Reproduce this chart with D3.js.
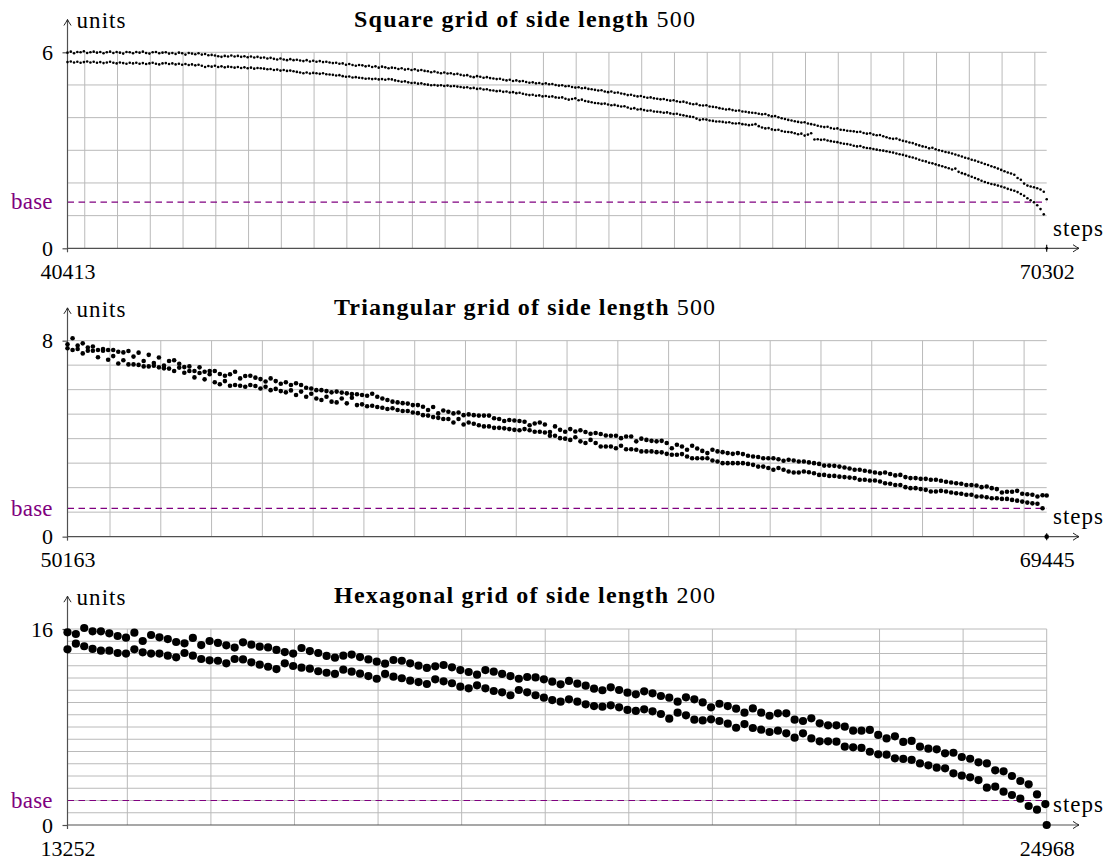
<!DOCTYPE html>
<html>
<head>
<meta charset="utf-8">
<script src="https://cdn.jsdelivr.net/npm/d3@7"></script>
<style>
  body { margin: 0; background: #fff; }
  svg { display: block; }
  svg text { font-family: "Liberation Serif", "Times New Roman", "DejaVu Serif", serif; }
</style>
</head>
<body>
<svg id="chart" width="1113" height="865"></svg>
<script>
// one panel per grid type
const titles = ['Square grid of side length', 'Triangular grid of side length', 'Hexagonal grid of side length']
const sideLengths = [500, 500, 200]
const stepStarts = [40413, 50163, 13252]
const stepEnds = [70302, 69445, 24968]
const unitMax = [6, 8, 16]
const baseValues = [1.414, 1.155, 2]
const sampleEvery = 100
const gridStarts = [40940, 51000, 13968]
const gridEvery = 1000

// values, one point every 100 steps
const squareUpper = [
  5.99, 6.02, 5.97, 6.01, 6.00, 6.03, 5.98, 6.00, 6.02, 5.99,
  6.01, 5.97, 6.00, 6.02, 5.98, 6.01, 5.99, 5.96, 6.01, 6.00,
  5.97, 6.01, 5.99, 6.02, 5.98, 5.96, 6.00, 6.01, 5.97, 5.99,
  6.00, 5.96, 5.98, 5.95, 5.99, 5.97, 5.93, 5.98, 5.96, 5.94,
  5.97, 5.93, 5.95, 5.91, 5.92, 5.90, 5.88, 5.86, 5.89, 5.87,
  5.90, 5.87, 5.89, 5.86, 5.88, 5.85, 5.87, 5.84, 5.86, 5.83,
  5.84, 5.81, 5.83, 5.80, 5.78, 5.81, 5.78, 5.76, 5.79, 5.76,
  5.77, 5.75, 5.73, 5.76, 5.72, 5.74, 5.71, 5.73, 5.70, 5.71,
  5.69, 5.67, 5.68, 5.65, 5.66, 5.62, 5.64, 5.61, 5.59, 5.61,
  5.60, 5.57, 5.59, 5.55, 5.57, 5.53, 5.56, 5.54, 5.51, 5.53,
  5.52, 5.49, 5.51, 5.47, 5.49, 5.46, 5.48, 5.44, 5.46, 5.43,
  5.42, 5.39, 5.41, 5.38, 5.36, 5.38, 5.35, 5.36, 5.33, 5.34,
  5.31, 5.29, 5.30, 5.26, 5.24, 5.27, 5.25, 5.22, 5.24, 5.21,
  5.20, 5.18, 5.19, 5.16, 5.14, 5.16, 5.12, 5.14, 5.11, 5.12,
  5.09, 5.07, 5.08, 5.05, 5.06, 5.03, 5.05, 5.02, 5.03, 5.00,
  4.98, 4.99, 4.96, 4.97, 4.94, 4.92, 4.93, 4.90, 4.91, 4.88,
  4.87, 4.85, 4.83, 4.84, 4.80, 4.78, 4.80, 4.76, 4.77, 4.74,
  4.72, 4.69, 4.70, 4.67, 4.65, 4.66, 4.63, 4.61, 4.62, 4.59,
  4.58, 4.56, 4.57, 4.54, 4.52, 4.53, 4.50, 4.48, 4.49, 4.46,
  4.43, 4.41, 4.42, 4.38, 4.37, 4.38, 4.34, 4.33, 4.32, 4.29,
  4.27, 4.25, 4.26, 4.23, 4.21, 4.22, 4.19, 4.18, 4.16, 4.15,
  4.14, 4.12, 4.10, 4.11, 4.07, 4.04, 4.05, 4.01, 3.98, 3.96,
  3.93, 3.91, 3.89, 3.87, 3.85, 3.86, 3.82, 3.80, 3.78, 3.75,
  3.73, 3.71, 3.72, 3.68, 3.66, 3.67, 3.63, 3.62, 3.60, 3.59,
  3.58, 3.56, 3.57, 3.53, 3.51, 3.52, 3.48, 3.46, 3.47, 3.43,
  3.40, 3.37, 3.35, 3.36, 3.32, 3.29, 3.27, 3.24, 3.22, 3.18,
  3.15, 3.12, 3.10, 3.06, 3.08, 3.03, 3.00, 2.98, 2.95, 2.93,
  2.90, 2.87, 2.84, 2.81, 2.77, 2.75, 2.71, 2.69, 2.65, 2.62,
  2.58, 2.55, 2.51, 2.48, 2.44, 2.40, 2.36, 2.32, 2.29, 2.25,
  2.15, 2.10, 1.98, 1.92, 1.89, 1.87, 1.84, 1.80, 1.73, 1.50
]
const squareLower = [
  5.70, 5.72, 5.69, 5.71, 5.68, 5.70, 5.72, 5.69, 5.71, 5.68,
  5.70, 5.67, 5.69, 5.71, 5.68, 5.66, 5.69, 5.67, 5.65, 5.68,
  5.66, 5.68, 5.65, 5.67, 5.64, 5.66, 5.68, 5.65, 5.63, 5.66,
  5.67, 5.64, 5.66, 5.63, 5.65, 5.62, 5.64, 5.61, 5.63, 5.60,
  5.62, 5.59, 5.55, 5.58, 5.56, 5.59, 5.55, 5.57, 5.54, 5.56,
  5.55, 5.53, 5.55, 5.52, 5.54, 5.51, 5.53, 5.50, 5.52, 5.51,
  5.50, 5.48, 5.49, 5.46, 5.47, 5.44, 5.46, 5.43, 5.44, 5.42,
  5.40, 5.38, 5.36, 5.38, 5.35, 5.37, 5.36, 5.34, 5.36, 5.33,
  5.32, 5.31, 5.29, 5.30, 5.27, 5.25, 5.26, 5.23, 5.24, 5.22,
  5.21, 5.19, 5.20, 5.18, 5.19, 5.17, 5.18, 5.16, 5.18, 5.17,
  5.14, 5.12, 5.10, 5.11, 5.08, 5.06, 5.07, 5.04, 5.05, 5.02,
  5.01, 4.99, 5.00, 4.98, 4.99, 4.97, 4.98, 4.96, 4.97, 4.95,
  4.94, 4.92, 4.93, 4.90, 4.91, 4.88, 4.89, 4.86, 4.87, 4.84,
  4.83, 4.81, 4.82, 4.79, 4.80, 4.77, 4.78, 4.75, 4.76, 4.73,
  4.71, 4.69, 4.70, 4.67, 4.68, 4.65, 4.66, 4.64, 4.65, 4.62,
  4.61, 4.62, 4.58, 4.55, 4.57, 4.59, 4.53, 4.55, 4.51, 4.49,
  4.47, 4.45, 4.44, 4.42, 4.43, 4.40, 4.38, 4.39, 4.36, 4.34,
  4.35, 4.31, 4.27, 4.29, 4.25, 4.26, 4.23, 4.21, 4.22, 4.19,
  4.18, 4.17, 4.15, 4.16, 4.13, 4.11, 4.12, 4.09, 4.07, 4.05,
  4.03, 4.02, 3.97, 3.93, 3.95, 3.94, 3.91, 3.90, 3.88, 3.88,
  3.87, 3.85, 3.86, 3.83, 3.82, 3.83, 3.80, 3.79, 3.77, 3.78,
  3.80, 3.74, 3.70, 3.67, 3.68, 3.64, 3.62, 3.63, 3.59, 3.57,
  3.56, 3.55, 3.52, 3.49, 3.51, 3.45, 3.48, 3.52, 3.33, 3.34,
  3.32, 3.33, 3.30, 3.28, 3.26, 3.25, 3.22, 3.20, 3.19, 3.17,
  3.14, 3.12, 3.13, 3.09, 3.07, 3.06, 3.04, 3.02, 3.00, 2.99,
  2.97, 2.95, 2.93, 2.90, 2.88, 2.86, 2.83, 2.80, 2.78, 2.75,
  2.71, 2.68, 2.66, 2.62, 2.60, 2.57, 2.54, 2.51, 2.48, 2.45,
  2.41, 2.44, 2.34, 2.30, 2.27, 2.23, 2.19, 2.15, 2.11, 2.07,
  2.03, 2.00, 1.97, 1.95, 1.92, 1.89, 1.86, 1.82, 1.79, 1.76,
  1.72, 1.66, 1.61, 1.53, 1.47, 1.41, 1.32, 1.20, 1.04
]
const triangleUpper = [
  7.85, 8.10, 7.80, 7.89, 7.72, 7.76, 7.62, 7.66, 7.62, 7.62,
  7.55, 7.52, 7.58, 7.35, 7.51, 7.17, 7.42, 7.09, 7.31, 6.98,
  7.17, 7.20, 7.06, 6.92, 6.95, 6.76, 6.91, 6.73, 6.76, 6.76,
  6.64, 6.57, 6.63, 6.73, 6.46, 6.56, 6.57, 6.49, 6.43, 6.33,
  6.46, 6.35, 6.24, 6.30, 6.19, 6.26, 6.19, 6.08, 6.05, 5.98,
  5.98, 5.94, 5.89, 5.92, 5.88, 5.85, 5.82, 5.81, 5.78, 5.75,
  5.83, 5.71, 5.64, 5.58, 5.51, 5.48, 5.45, 5.43, 5.37, 5.37,
  5.30, 5.17, 5.29, 5.03, 5.15, 5.10, 5.03, 5.07, 4.96, 4.99,
  4.96, 4.94, 4.94, 4.94, 4.83, 4.80, 4.72, 4.76, 4.74, 4.72,
  4.69, 4.55, 4.62, 4.66, 4.58,
  4.27, 4.50, 4.36, 4.28, 4.39, 4.29, 4.34, 4.27, 4.20,
  4.23, 4.19, 4.13, 4.12, 4.12, 4.02, 4.09, 4.09, 3.89, 4.00,
  3.95, 3.91, 3.89, 3.91, 3.82, 3.61, 3.75, 3.68, 3.55, 3.71,
  3.60, 3.50, 3.41, 3.55, 3.48, 3.45, 3.41, 3.38, 3.41, 3.37,
  3.30, 3.27, 3.25, 3.20, 3.20, 3.20, 3.16, 3.10, 3.14, 3.11,
  3.07, 3.07, 3.03, 3.00, 2.97, 2.90, 2.90, 2.89, 2.86, 2.82,
  2.78, 2.73, 2.73, 2.69, 2.66, 2.62, 2.59, 2.62, 2.56, 2.50,
  2.52, 2.43, 2.39, 2.39, 2.36, 2.36, 2.32, 2.32, 2.28, 2.24,
  2.21, 2.18, 2.16, 2.11, 2.11, 2.09, 2.02, 2.05, 1.98, 1.94,
  1.80, 1.83, 1.83, 1.87, 1.75, 1.73, 1.71, 1.64, 1.69, 1.68
]
const triangleLower = [
  7.69, 7.62, 7.66, 7.48, 7.59, 7.59, 7.32, 7.59, 7.22, 7.37,
  7.07, 7.20, 7.03, 7.03, 7.01, 6.95, 6.95, 6.98, 6.91, 6.87,
  6.86, 6.76, 6.90, 6.69, 6.76, 6.50, 6.68, 6.42, 6.63, 6.30,
  6.22, 6.35, 6.16, 6.19, 6.16, 6.12, 6.19, 6.15, 6.05, 6.12,
  5.98, 6.03, 5.94, 5.89, 5.97, 5.78, 5.92, 5.71, 5.83, 5.64,
  5.58, 5.71, 5.51, 5.48, 5.64, 5.44, 5.67, 5.37, 5.40, 5.32,
  5.34, 5.29, 5.26, 5.21, 5.24, 5.17, 5.13, 5.13, 5.07, 5.04,
  4.96, 4.94, 4.88, 4.85, 4.80, 4.80, 4.66, 4.80, 4.58, 4.66,
  4.61, 4.55, 4.50, 4.50, 4.44, 4.44, 4.42, 4.39, 4.36, 4.34,
  4.39, 4.34, 4.28, 4.28, 4.25,
  4.12, 4.12, 4.02, 4.00, 3.95, 4.06, 3.89, 3.82, 3.95,
  3.82, 3.68, 3.68, 3.68, 3.61, 3.71, 3.57, 3.57, 3.55, 3.48,
  3.48, 3.48, 3.45, 3.44, 3.38, 3.34, 3.34, 3.37, 3.27, 3.20,
  3.20, 3.20, 3.20, 3.11, 3.07, 3.00, 3.00, 3.00, 3.00, 3.00,
  2.97, 2.93, 2.86, 2.86, 2.80, 2.73, 2.80, 2.73, 2.66, 2.62,
  2.62, 2.66, 2.63, 2.59, 2.52, 2.52, 2.48, 2.48, 2.45, 2.43,
  2.41, 2.39, 2.32, 2.32, 2.29, 2.29, 2.25, 2.18, 2.16, 2.11,
  2.11, 2.02, 1.98, 1.98, 1.94, 1.91, 1.84, 1.84, 1.87, 1.84,
  1.80, 1.77, 1.75, 1.71, 1.71, 1.64, 1.64, 1.61, 1.57, 1.57,
  1.54, 1.54, 1.50, 1.47, 1.43, 1.39, 1.36, 1.34, 1.16
]
const hexUpper = [
  15.73, 15.59, 16.08, 15.81, 15.81, 15.65, 15.43, 15.29, 15.70, 15.02,
  15.51, 15.32, 15.18, 14.94, 14.83, 15.27, 14.69, 15.02, 14.86, 14.67,
  14.48, 14.91, 14.72, 14.56, 14.50, 14.29, 14.12, 13.99, 14.45, 14.20,
  14.04, 13.80, 13.66, 13.82, 13.91, 13.71, 13.52, 13.33, 13.17, 13.47,
  13.41, 13.20, 13.01, 12.82, 12.95, 13.06, 12.87, 12.65, 12.49, 12.27,
  12.65, 12.52, 12.33, 12.16, 11.94, 12.08, 12.05, 11.89,
  11.70, 11.48, 11.76, 11.54, 11.37, 11.13, 11.00, 11.24, 11.02, 10.80,
  10.67, 10.91, 10.75, 10.53, 10.39, 10.07, 10.42, 10.26, 10.01, 9.61,
  9.90, 9.71, 9.50, 9.17, 9.52, 9.17, 8.92, 9.12, 9.12, 8.60,
  8.49, 8.71, 8.30, 8.14, 8.14, 8.03, 7.70, 7.70, 7.76, 7.35,
  7.07, 7.24, 6.78, 6.86, 6.39, 6.23, 6.18, 5.85, 5.90, 5.55,
  5.41, 5.12, 5.03, 4.46, 4.38, 4.00, 3.59, 3.32, 2.50, 1.71
]
const hexLower = [
  14.34, 14.80, 14.59, 14.37, 14.23, 14.23, 14.04, 13.99, 14.34, 14.10,
  13.99, 13.99, 13.82, 13.69, 14.04, 13.82, 13.55, 13.44, 13.41, 13.20,
  13.55, 13.52, 13.28, 13.09, 12.92, 12.73, 13.20, 12.98, 12.84, 12.76,
  12.55, 12.43, 12.33, 12.68, 12.52, 12.35, 12.16, 11.94, 12.33, 12.11,
  11.98, 11.78, 11.67, 11.51, 11.89, 11.73, 11.57, 11.29, 11.16, 11.40,
  11.16, 10.94, 10.83, 10.59, 11.02, 10.83, 10.59, 10.39,
  10.20, 10.07, 10.26, 10.07, 9.85, 9.71, 9.66, 9.77, 9.61, 9.39,
  9.31, 9.44, 9.28, 9.06, 8.68, 9.17, 8.95, 8.60, 8.54, 8.63,
  8.49, 8.27, 7.94, 8.24, 7.92, 7.78, 7.59, 7.70, 7.48, 7.13,
  7.48, 7.07, 6.83, 6.83, 6.80, 6.39, 6.34, 6.29, 5.98, 5.77,
  5.74, 5.44, 5.39, 5.31, 5.03, 4.87, 4.68, 4.63, 4.22, 4.03,
  3.89, 3.67, 3.05, 3.13, 2.72, 2.45, 2.15, 1.55, 1.25
]

const upperSeries = [squareUpper, triangleUpper, hexUpper]
const lowerSeries = [squareLower, triangleLower, hexLower]

// layout
const left = 67.5
const right = 1046.7
const zeroY = 248.3
const topY = 52.3
const panelGap = 288.35
const dotRadius = [1.3, 2.3, 4.1]
const titleWidth = [341, 381, 381]
const purple = '#800080'
const axisColor = '#505050'
const gridColor = '#bababa'

const svg = d3.select('#chart')
svg.append('rect').attr('width', 1113).attr('height', 865).attr('fill', '#fff')

titles.forEach((title, k) => {
  const start = stepStarts[k]
  const end = stepEnds[k]
  const yMax = unitMax[k]
  const r = dotRadius[k]

  const g = svg.append('g').attr('transform', `translate(0,${k * panelGap})`)

  const x = d3.scaleLinear().domain([start, end]).range([left, right])
  const y = d3.scaleLinear().domain([0, yMax]).range([zeroY, topY])

  // grid
  g.append('g')
    .selectAll('line')
    .data(d3.range(1, yMax + 1))
    .join('line')
    .attr('x1', left)
    .attr('x2', right)
    .attr('y1', (d) => y(d))
    .attr('y2', (d) => y(d))
    .attr('stroke', gridColor)
    .attr('stroke-width', 1)

  g.append('g')
    .selectAll('line')
    .data(d3.range(gridStarts[k], end + 1, gridEvery))
    .join('line')
    .attr('x1', (d) => x(d))
    .attr('x2', (d) => x(d))
    .attr('y1', y(0))
    .attr('y2', y(yMax))
    .attr('stroke', gridColor)
    .attr('stroke-width', 1)

  // base level
  g.append('line')
    .attr('x1', left)
    .attr('x2', right)
    .attr('y1', y(baseValues[k]))
    .attr('y2', y(baseValues[k]))
    .attr('stroke', purple)
    .attr('stroke-width', 1.1)
    .attr('stroke-dasharray', '6.5,4.5')

  g.append('text')
    .attr('x', left - 56.5)
    .attr('y', y(baseValues[k]))
    .attr('dy', '0.32em')
    .attr('fill', purple)
    .attr('font-size', 23)
    .attr('textLength', 41.5)
    .attr('lengthAdjust', 'spacing')
    .text('base')

  // y axis ticks and labels
  const ya = g
    .append('g')
    .attr('transform', `translate(${left},0)`)
    .call(d3.axisLeft(y).tickValues([0, yMax]).tickSize(5).tickPadding(9.5).tickFormat(d3.format('d')))
  ya.attr('font-family', null)
  ya.select('.domain').remove()
  ya.selectAll('line').attr('stroke', axisColor).attr('stroke-width', 1.2)
  ya.selectAll('text').attr('fill', '#000').attr('font-size', 22)

  // x axis labels
  const xa = g
    .append('g')
    .attr('transform', `translate(0,${zeroY})`)
    .call(d3.axisBottom(x).tickValues([start, end]).tickSize(0).tickPadding(15).tickFormat(d3.format('d')))
  xa.attr('font-family', null)
  xa.select('.domain').remove()
  xa.selectAll('line').remove()
  xa.selectAll('text').attr('fill', '#000').attr('font-size', 22)

  // axis lines with arrow heads
  const xTip = 1079
  const yTip = topY - 32.8
  g.append('line')
    .attr('x1', left).attr('x2', xTip)
    .attr('y1', zeroY).attr('y2', zeroY)
    .attr('stroke', axisColor).attr('stroke-width', 1.2)
  g.append('line')
    .attr('x1', left).attr('x2', left)
    .attr('y1', zeroY + 4).attr('y2', yTip)
    .attr('stroke', axisColor).attr('stroke-width', 1.2)
  g.append('path')
    .attr('d', `M${xTip - 6},${zeroY - 3.6} Q${xTip - 2.2},${zeroY - 1} ${xTip},${zeroY} Q${xTip - 2.2},${zeroY + 1} ${xTip - 6},${zeroY + 3.6}`)
    .attr('fill', 'none').attr('stroke', '#222').attr('stroke-width', 1)
  g.append('path')
    .attr('d', `M${left - 3.6},${yTip + 6} Q${left - 1},${yTip + 2.2} ${left},${yTip} Q${left + 1},${yTip + 2.2} ${left + 3.6},${yTip + 6}`)
    .attr('fill', 'none').attr('stroke', '#222').attr('stroke-width', 1)

  // end tick
  g.append('line')
    .attr('x1', x(end)).attr('x2', x(end))
    .attr('y1', zeroY - 3.5).attr('y2', zeroY + 3.5)
    .attr('stroke', '#000').attr('stroke-width', 1.1)

  // axis names
  g.append('text')
    .attr('x', left + 9)
    .attr('y', 28.3)
    .attr('font-size', 23)
    .attr('textLength', 49)
    .attr('lengthAdjust', 'spacing')
    .text('units')
  g.append('text')
    .attr('x', 1053)
    .attr('y', zeroY - 12.8)
    .attr('font-size', 23)
    .attr('textLength', 50)
    .attr('lengthAdjust', 'spacing')
    .text('steps')

  // title
  const t = g.append('text')
    .attr('x', 524.5)
    .attr('y', 26.7)
    .attr('text-anchor', 'middle')
    .attr('font-size', 24)
    .attr('textLength', titleWidth[k])
    .attr('lengthAdjust', 'spacing')
  t.append('tspan').attr('font-weight', 'bold').text(title + ' ')
  t.append('tspan').text(sideLengths[k])

  // points
  const toPoints = (vals) => vals.map((v, i) => [Math.min(start + i * sampleEvery, end), v])
  const points = toPoints(upperSeries[k]).concat(toPoints(lowerSeries[k]))
  points.push([end, 0])

  g.append('g')
    .selectAll('circle')
    .data(points)
    .join('circle')
    .attr('cx', (d) => x(d[0]))
    .attr('cy', (d) => y(d[1]))
    .attr('r', r)
    .attr('fill', '#000')
})
</script>
</body>
</html>
